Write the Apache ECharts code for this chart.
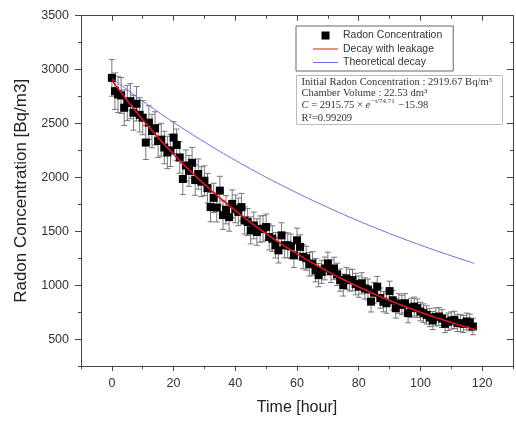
<!DOCTYPE html>
<html><head><meta charset="utf-8">
<script src="https://cdn.jsdelivr.net/npm/echarts@6/dist/echarts.min.js"></script>
<style>html,body{margin:0;padding:0;background:#fff}#c{width:516px;height:421px}</style>
</head><body><div id="c"></div>
<script>
// ---- data ----
const hours = [];
for (let h = 0; h <= 117; h++) hours.push(h);
const radon = [
2923,2800,2770,2760,2646,2690,2707,2600,2683,2580,
2554,2323,2508,2430,2455,2338,2350,2277,2231,2250,
2369,2301,2185,1985,2110,2060,2135,1975,2031,1960,
1969,1900,1724,1810,1720,1877,1650,1700,1631,1754,
1708,1680,1724,1600,1585,1508,1554,1493,1520,1524,
1539,1447,1431,1370,1323,1462,1370,1370,1360,1277,
1416,1355,1263,1250,1194,1201,1139,1093,1124,1155,
1201,1130,1155,1100,1047,1001,1063,1047,1047,1010,
986,1017,970,960,847,930,986,880,847,832,
945,860,786,830,816,832,740,790,801,786,
755,740,724,700,672,705,709,690,641,660,
672,678,650,647,640,663,654,617];
const radonErr = [
170,169,168,166,165,164,163,162,160,159,
158,157,156,155,154,153,152,151,150,149,
148,147,146,145,144,143,142,141,140,139,
138,137,136,135,134,133,132,131,130,130,
129,128,127,126,125,125,124,123,122,121,
121,120,119,118,117,117,116,115,114,114,
113,112,111,111,110,109,108,108,107,106,
105,105,104,104,103,102,102,101,100,100,
99,98,98,97,96,96,95,94,94,93,
92,92,91,91,90,89,89,88,88,87,
86,86,85,85,84,84,83,83,82,81,
80,80,80,79,79,78,78,77];
const fitHours   = [0,5,10,15,20,25,30,35,40,45,50,55,60,65,70,75,80,85,90,95,100,105,110,115,118];
const fitValues  = [2900,2711,2534,2369,2215,2070,1935,1809,1691,1580,1477,1380,1290,1205,1126,1052,983,918,858,801,748,699,653,609,585];
const theoryHours  = [0,5,10,15,20,25,30,35,40,45,50,55,60,65,70,75,80,85,90,95,100,105,110,115,117.5];
const theoryValues = [2920,2812,2707,2607,2510,2417,2328,2241,2158,2078,2001,1927,1856,1787,1721,1657,1595,1536,1479,1424,1372,1321,1272,1225,1201];
const xMajor = [0,20,40,60,80,100,120];
const xMinor = [-10,10,30,50,70,90,110,130];
const yMajor = [500,1000,1500,2000,2500,3000,3500];
const yMinor = [250,750,1250,1750,2250,2750,3250];

const SANS = 'Liberation Sans, Arial, sans-serif';
const SERIF = 'Liberation Serif, Times New Roman, serif';
const AX = '#444';
const plain = v => String(v);

function xAx(pos, ticks, len, inside, withLine, withLabel) {
  return {
    type:'value', position:pos, min:-10, max:130,
    axisLine:{show:withLine, onZero:false, lineStyle:{color:AX, width:1}},
    axisTick:{show:true, customValues:ticks, length:len, inside:inside, lineStyle:{color:AX}},
    axisLabel:{show:withLabel, customValues:xMajor, formatter:plain, margin:11, fontSize:12.5, color:'#333', fontFamily:SANS},
    splitLine:{show:false}
  };
}
function yAx(pos, ticks, len, inside, withLine, withLabel) {
  return {
    type:'value', position:pos, min:250, max:3500,
    axisLine:{show:withLine, onZero:false, lineStyle:{color:AX, width:1}},
    axisTick:{show:true, customValues:ticks, length:len, inside:inside, lineStyle:{color:AX}},
    axisLabel:{show:withLabel, customValues:yMajor, formatter:plain, margin:12, fontSize:12.5, color:'#333', fontFamily:SANS},
    splitLine:{show:false}
  };
}
const xAxes = [
  Object.assign(xAx('bottom', xMajor, 5, false, true, true), {name:'Time [hour]', nameLocation:'middle', nameGap:34, nameTextStyle:{fontSize:16, color:'#222', fontFamily:SANS}}),
  xAx('bottom', xMinor, 3, false, false, false),
  xAx('top', xMajor, 5, true, true, false),
  xAx('top', xMinor, 3, true, false, false)
];
const yAxes = [
  Object.assign(yAx('left', yMajor, 6, false, true, true), {name:'Radon Concentration [Bq/m3]', nameLocation:'middle', nameGap:48, nameTextStyle:{fontSize:17, color:'#222', fontFamily:SANS}}),
  yAx('left', yMinor, 3, false, false, false),
  yAx('right', yMajor, 6, true, true, false),
  yAx('right', yMinor, 3, true, false, false)
];

const chart = echarts.init(document.getElementById('c'), null, {renderer:'canvas'});
const errData = hours.map((t,i)=>[t, radon[i]-radonErr[i], radon[i]+radonErr[i]]);
const LINE_ICON = 'path://M0,0L25,0L25,1L0,1Z';
chart.setOption({
  animation:false,
  backgroundColor:'#fff',
  grid:{left:81, right:3, top:15.7, bottom:53, containLabel:false},
  xAxis:xAxes,
  yAxis:yAxes,
  legend:{
    orient:'vertical', left:296, top:26,
    padding:[3,11,2,17], itemGap:0.5, itemWidth:25, itemHeight:8,
    borderColor:'#666', borderWidth:1, backgroundColor:'#fff',
    textStyle:{fontSize:10.5, color:'#333', fontFamily:SANS, lineHeight:13},
    itemStyle:{borderWidth:0},
    data:[
      {name:'Radon Concentration', icon:'path://M0,0L10,0L10,10L0,10Z'},
      {name:'Decay with leakage', icon:LINE_ICON},
      {name:'Theoretical decay', icon:LINE_ICON}
    ]
  },
  series:[
    {
      name:'Error', type:'custom', xAxisIndex:0, yAxisIndex:0, z:1,
      renderItem:function(params, api){
        const t = api.value(0);
        const p1 = api.coord([t, api.value(2)]);
        const p2 = api.coord([t, api.value(1)]);
        const w = 3;
        const st = {stroke:'#777', lineWidth:1};
        return {type:'group', children:[
          {type:'line', shape:{x1:p1[0], y1:p1[1], x2:p2[0], y2:p2[1]}, style:st},
          {type:'line', shape:{x1:p1[0]-w, y1:p1[1], x2:p1[0]+w, y2:p1[1]}, style:st},
          {type:'line', shape:{x1:p2[0]-w, y1:p2[1], x2:p2[0]+w, y2:p2[1]}, style:st}
        ]};
      },
      encode:{x:0, y:[1,2]},
      data:errData
    },
    {
      name:'Radon Concentration', type:'scatter', z:2,
      symbol:'rect', symbolSize:8, itemStyle:{color:'#000', opacity:1},
      data:hours.map((t,i)=>[t, radon[i]])
    },
    {
      name:'Theoretical decay', type:'line', z:3, symbol:'none', smooth:0.3,
      lineStyle:{color:'#6e6ee6', width:1}, itemStyle:{color:'#6e6ee6'},
      data:theoryHours.map((t,i)=>[t, theoryValues[i]])
    },
    {
      name:'Decay with leakage', type:'line', z:4, symbol:'none', smooth:0.3,
      lineStyle:{color:'#e0141e', width:1.6}, itemStyle:{color:'#e0141e'},
      data:fitHours.map((t,i)=>[t, fitValues[i]])
    }
  ],
  graphic:[{
    type:'group', left:296, top:75, z:100,
    children:[
      {type:'rect', shape:{x:0, y:0, width:206, height:49}, style:{fill:'#fff', stroke:'#bbb', lineWidth:1}},
      {type:'text', x:5, y:6.7, style:{text:'Initial Radon Concentration : 2919.67 Bq/m³', fontSize:10.6, fontFamily:SERIF, fill:'#333', verticalAlign:'middle'}},
      {type:'text', x:5, y:17.7, style:{text:'Chamber Volume : 22.53 dm³', fontSize:10.6, fontFamily:SERIF, fill:'#333', verticalAlign:'middle'}},
      {type:'text', x:5, y:30, style:{
        text:'{i|C} = 2915.75 × {i|e}{s|−t/74.71} −15.98', fontSize:10.6, fontFamily:SERIF, fill:'#333', verticalAlign:'middle',
        rich:{
          i:{fontStyle:'italic', fontSize:10.6, fontFamily:SERIF, fill:'#333'},
          s:{fontSize:7, fontFamily:SERIF, fill:'#333', padding:[0,1,8,1]}
        }}},
      {type:'text', x:5, y:42.7, style:{text:'R²=0.99209', fontSize:10.6, fontFamily:SERIF, fill:'#333', verticalAlign:'middle'}}
    ]
  }]
});
</script>
</body></html>
